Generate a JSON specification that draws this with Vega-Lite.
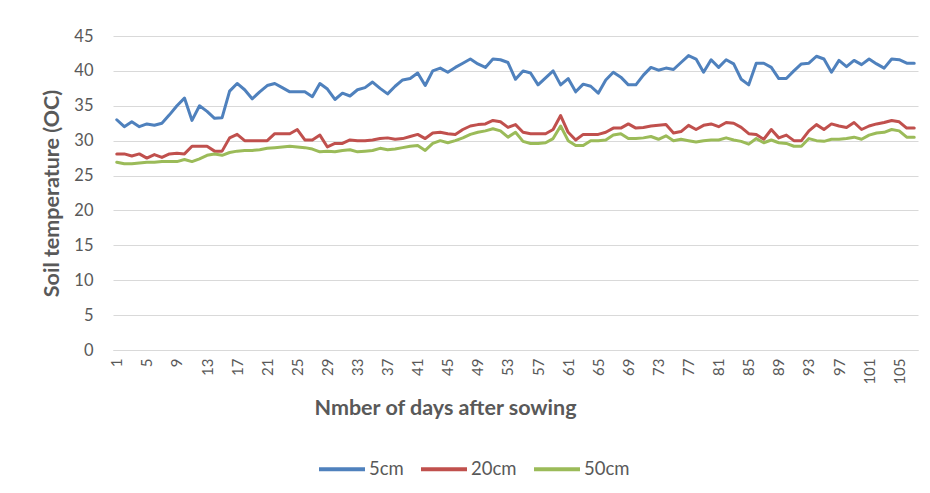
{
  "$schema": "https://vega.github.io/schema/vega-lite/v6.json",
  "width": 805,
  "height": 314,
  "autosize": {"type": "none"},
  "padding": {"left": 113, "top": 36, "right": 12, "bottom": 143},
  "background": "white",
  "config": {
    "font": "Lato",
    "view": {"stroke": null},
    "axis": {"labelColor": "#595959", "titleColor": "#595959", "labelFont": "Lato", "titleFont": "Lato"}
  },
  "data": {
    "values": [
      {"day":1,"5cm":33.0,"20cm":28.1,"50cm":26.9},
      {"day":2,"5cm":32.0,"20cm":28.1,"50cm":26.7},
      {"day":3,"5cm":32.7,"20cm":27.8,"50cm":26.7},
      {"day":4,"5cm":32.0,"20cm":28.1,"50cm":26.8},
      {"day":5,"5cm":32.4,"20cm":27.5,"50cm":26.9},
      {"day":6,"5cm":32.2,"20cm":28.0,"50cm":26.9},
      {"day":7,"5cm":32.5,"20cm":27.6,"50cm":27.0},
      {"day":8,"5cm":33.7,"20cm":28.1,"50cm":27.0},
      {"day":9,"5cm":35.0,"20cm":28.2,"50cm":27.0},
      {"day":10,"5cm":36.1,"20cm":28.1,"50cm":27.3},
      {"day":11,"5cm":32.9,"20cm":29.2,"50cm":27.0},
      {"day":12,"5cm":35.0,"20cm":29.2,"50cm":27.4},
      {"day":13,"5cm":34.2,"20cm":29.2,"50cm":27.9},
      {"day":14,"5cm":33.2,"20cm":28.5,"50cm":28.1},
      {"day":15,"5cm":33.3,"20cm":28.5,"50cm":27.9},
      {"day":16,"5cm":37.1,"20cm":30.4,"50cm":28.3},
      {"day":17,"5cm":38.2,"20cm":30.9,"50cm":28.5},
      {"day":18,"5cm":37.3,"20cm":30.0,"50cm":28.6},
      {"day":19,"5cm":36.0,"20cm":30.0,"50cm":28.6},
      {"day":20,"5cm":37.0,"20cm":30.0,"50cm":28.7},
      {"day":21,"5cm":37.9,"20cm":30.0,"50cm":28.9},
      {"day":22,"5cm":38.2,"20cm":31.0,"50cm":29.0},
      {"day":23,"5cm":37.6,"20cm":31.0,"50cm":29.1},
      {"day":24,"5cm":37.0,"20cm":31.0,"50cm":29.2},
      {"day":25,"5cm":37.0,"20cm":31.6,"50cm":29.1},
      {"day":26,"5cm":37.0,"20cm":30.1,"50cm":29.0},
      {"day":27,"5cm":36.3,"20cm":30.1,"50cm":28.8},
      {"day":28,"5cm":38.2,"20cm":30.8,"50cm":28.4},
      {"day":29,"5cm":37.4,"20cm":29.1,"50cm":28.5},
      {"day":30,"5cm":35.9,"20cm":29.6,"50cm":28.4},
      {"day":31,"5cm":36.8,"20cm":29.6,"50cm":28.6},
      {"day":32,"5cm":36.4,"20cm":30.1,"50cm":28.7},
      {"day":33,"5cm":37.3,"20cm":30.0,"50cm":28.4},
      {"day":34,"5cm":37.6,"20cm":30.0,"50cm":28.5},
      {"day":35,"5cm":38.4,"20cm":30.1,"50cm":28.6},
      {"day":36,"5cm":37.5,"20cm":30.3,"50cm":28.9},
      {"day":37,"5cm":36.7,"20cm":30.4,"50cm":28.7},
      {"day":38,"5cm":37.8,"20cm":30.2,"50cm":28.8},
      {"day":39,"5cm":38.7,"20cm":30.3,"50cm":29.0},
      {"day":40,"5cm":38.9,"20cm":30.6,"50cm":29.2},
      {"day":41,"5cm":39.7,"20cm":30.9,"50cm":29.3},
      {"day":42,"5cm":37.9,"20cm":30.3,"50cm":28.6},
      {"day":43,"5cm":40.0,"20cm":31.1,"50cm":29.6},
      {"day":44,"5cm":40.4,"20cm":31.2,"50cm":30.0},
      {"day":45,"5cm":39.8,"20cm":31.0,"50cm":29.7},
      {"day":46,"5cm":40.5,"20cm":30.9,"50cm":30.0},
      {"day":47,"5cm":41.1,"20cm":31.6,"50cm":30.4},
      {"day":48,"5cm":41.7,"20cm":32.1,"50cm":30.9},
      {"day":49,"5cm":41.0,"20cm":32.3,"50cm":31.2},
      {"day":50,"5cm":40.5,"20cm":32.4,"50cm":31.4},
      {"day":51,"5cm":41.7,"20cm":32.9,"50cm":31.7},
      {"day":52,"5cm":41.6,"20cm":32.7,"50cm":31.4},
      {"day":53,"5cm":41.2,"20cm":31.9,"50cm":30.5},
      {"day":54,"5cm":38.8,"20cm":32.3,"50cm":31.2},
      {"day":55,"5cm":40.0,"20cm":31.2,"50cm":29.9},
      {"day":56,"5cm":39.7,"20cm":31.0,"50cm":29.6},
      {"day":57,"5cm":38.0,"20cm":31.0,"50cm":29.6},
      {"day":58,"5cm":39.0,"20cm":31.0,"50cm":29.7},
      {"day":59,"5cm":40.0,"20cm":31.6,"50cm":30.3},
      {"day":60,"5cm":38.0,"20cm":33.6,"50cm":32.1},
      {"day":61,"5cm":38.9,"20cm":31.2,"50cm":30.0},
      {"day":62,"5cm":37.0,"20cm":30.1,"50cm":29.3},
      {"day":63,"5cm":38.1,"20cm":30.9,"50cm":29.3},
      {"day":64,"5cm":37.8,"20cm":30.9,"50cm":30.0},
      {"day":65,"5cm":36.8,"20cm":30.9,"50cm":30.0},
      {"day":66,"5cm":38.7,"20cm":31.2,"50cm":30.1},
      {"day":67,"5cm":39.8,"20cm":31.8,"50cm":30.8},
      {"day":68,"5cm":39.1,"20cm":31.8,"50cm":31.0},
      {"day":69,"5cm":38.0,"20cm":32.4,"50cm":30.3},
      {"day":70,"5cm":38.0,"20cm":31.8,"50cm":30.3},
      {"day":71,"5cm":39.4,"20cm":31.9,"50cm":30.4},
      {"day":72,"5cm":40.5,"20cm":32.1,"50cm":30.6},
      {"day":73,"5cm":40.1,"20cm":32.2,"50cm":30.2},
      {"day":74,"5cm":40.4,"20cm":32.3,"50cm":30.7},
      {"day":75,"5cm":40.2,"20cm":31.1,"50cm":30.0},
      {"day":76,"5cm":41.2,"20cm":31.3,"50cm":30.2},
      {"day":77,"5cm":42.2,"20cm":32.2,"50cm":30.0},
      {"day":78,"5cm":41.7,"20cm":31.6,"50cm":29.8},
      {"day":79,"5cm":39.8,"20cm":32.2,"50cm":30.0},
      {"day":80,"5cm":41.6,"20cm":32.4,"50cm":30.1},
      {"day":81,"5cm":40.5,"20cm":32.0,"50cm":30.1},
      {"day":82,"5cm":41.6,"20cm":32.6,"50cm":30.4},
      {"day":83,"5cm":41.0,"20cm":32.5,"50cm":30.1},
      {"day":84,"5cm":38.8,"20cm":31.9,"50cm":29.9},
      {"day":85,"5cm":38.0,"20cm":31.0,"50cm":29.5},
      {"day":86,"5cm":41.1,"20cm":30.9,"50cm":30.3},
      {"day":87,"5cm":41.1,"20cm":30.2,"50cm":29.7},
      {"day":88,"5cm":40.5,"20cm":31.6,"50cm":30.1},
      {"day":89,"5cm":38.9,"20cm":30.4,"50cm":29.7},
      {"day":90,"5cm":38.9,"20cm":30.8,"50cm":29.6},
      {"day":91,"5cm":40.0,"20cm":30.0,"50cm":29.2},
      {"day":92,"5cm":41.0,"20cm":30.0,"50cm":29.2},
      {"day":93,"5cm":41.1,"20cm":31.4,"50cm":30.3},
      {"day":94,"5cm":42.1,"20cm":32.3,"50cm":30.0},
      {"day":95,"5cm":41.7,"20cm":31.6,"50cm":29.9},
      {"day":96,"5cm":39.8,"20cm":32.4,"50cm":30.2},
      {"day":97,"5cm":41.5,"20cm":32.1,"50cm":30.2},
      {"day":98,"5cm":40.6,"20cm":31.9,"50cm":30.3},
      {"day":99,"5cm":41.5,"20cm":32.6,"50cm":30.5},
      {"day":100,"5cm":40.9,"20cm":31.6,"50cm":30.2},
      {"day":101,"5cm":41.7,"20cm":32.1,"50cm":30.8},
      {"day":102,"5cm":41.0,"20cm":32.4,"50cm":31.1},
      {"day":103,"5cm":40.4,"20cm":32.6,"50cm":31.2},
      {"day":104,"5cm":41.7,"20cm":32.9,"50cm":31.6},
      {"day":105,"5cm":41.6,"20cm":32.7,"50cm":31.4},
      {"day":106,"5cm":41.1,"20cm":31.8,"50cm":30.5},
      {"day":107,"5cm":41.1,"20cm":31.8,"50cm":30.5}
    ]
  },
  "transform": [{"fold": ["5cm", "20cm", "50cm"], "as": ["depth", "temp"]}],
  "mark": {"type": "line", "strokeWidth": 3, "strokeJoin": "round", "strokeCap": "round"},
  "encoding": {
    "x": {
      "field": "day",
      "type": "quantitative",
      "scale": {"domain": [0.5, 107.5], "nice": false, "zero": false},
      "axis": {
        "values": [1,5,9,13,17,21,25,29,33,37,41,45,49,53,57,61,65,69,73,77,81,85,89,93,97,101,105],
        "labelAngle": -90,
        "labelFontSize": 15,
        "labelPadding": 8,
        "ticks": false,
        "grid": false,
        "domainColor": "#D9D9D9",
        "labelFlush": false,
        "labelOverlap": false,
        "title": "Nmber of days after sowing",
        "titleFontSize": 21.5,
        "titleFontWeight": "bold",
        "titleX": 332,
        "titleY": 58,
        "titleAlign": "center",
        "titleBaseline": "middle"
      }
    },
    "y": {
      "field": "temp",
      "type": "quantitative",
      "scale": {"domain": [0, 45], "nice": false},
      "axis": {
        "values": [0,5,10,15,20,25,30,35,40,45],
        "labelFontSize": 16.5,
        "labelPadding": 20,
        "ticks": false,
        "domain": false,
        "gridColor": "#D9D9D9",
        "title": "Soil temperature (OC)",
        "titleFontSize": 21.5,
        "titleFontWeight": "bold",
        "titleX": -61,
        "titleY": 157,
        "titleAlign": "center",
        "titleBaseline": "middle"
      }
    },
    "color": {
      "field": "depth",
      "type": "nominal",
      "scale": {"domain": ["5cm", "20cm", "50cm"], "range": ["#4F81BD", "#C0504D", "#9BBB59"]},
      "legend": {
        "title": null,
        "orient": "none",
        "direction": "horizontal",
        "legendX": 204,
        "legendY": 408,
        "symbolType": "stroke",
        "symbolSize": 2116,
        "symbolStrokeWidth": 4,
        "labelFontSize": 18.5,
        "labelColor": "#595959",
        "labelOffset": 2,
        "columnPadding": 9
      }
    }
  }
}
